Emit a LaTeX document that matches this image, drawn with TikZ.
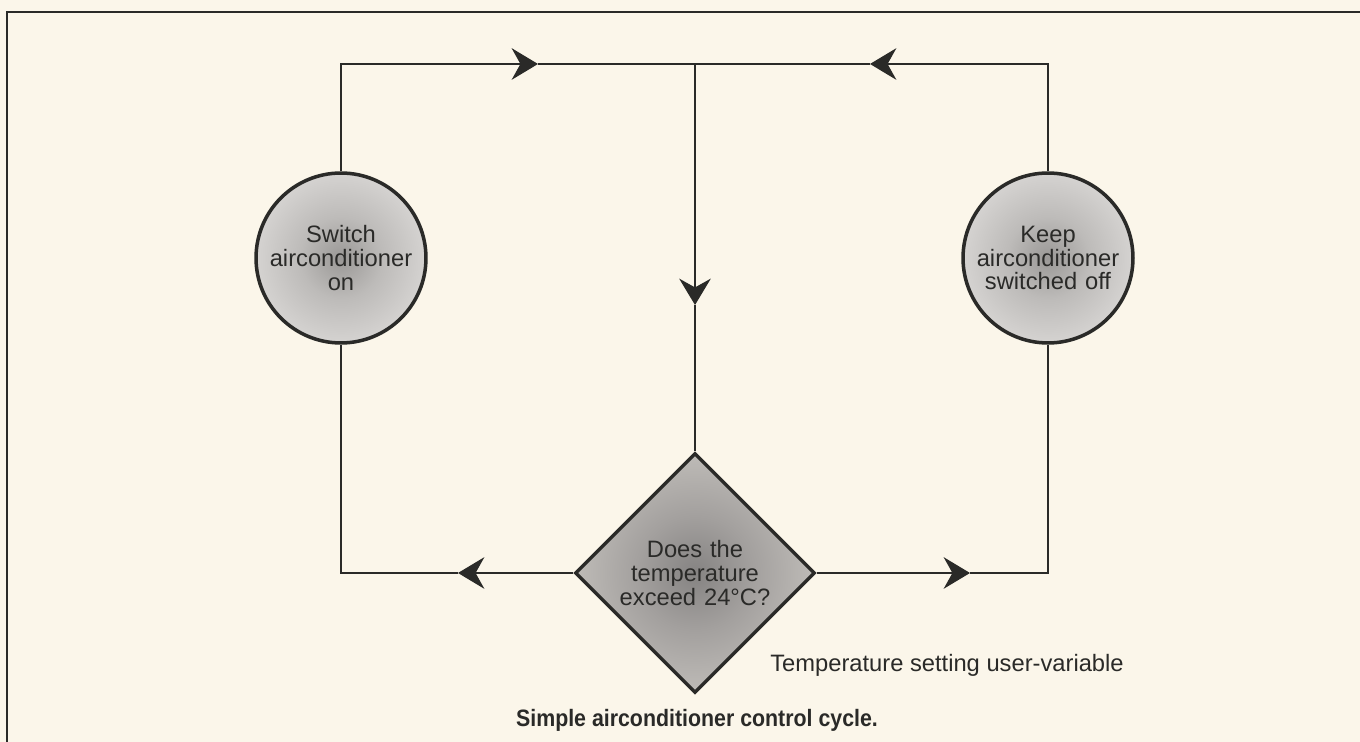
\documentclass[tikz,border=0pt]{standalone}
\usepackage{fontspec}
\setmainfont{Liberation Sans}
\newfontfamily\capfont[FakeStretch=0.9]{Liberation Sans}
\usetikzlibrary{arrows.meta,shapes.geometric}

\definecolor{paper}{HTML}{FBF6EA}
\definecolor{ink}{HTML}{2A2A28}
\definecolor{globeDark}{HTML}{9A9896}
\definecolor{globeMid}{HTML}{BDBBB9}
\definecolor{globeLight}{HTML}{DEDCDA}
\definecolor{globeEdge}{HTML}{ECEAE7}
\definecolor{kiteDark}{HTML}{858382}
\definecolor{kiteMid}{HTML}{A3A09E}
\definecolor{kiteLight}{HTML}{C0BDB9}
\definecolor{kiteEdge}{HTML}{CFCCC7}

\pgfdeclareradialshading{globe}{\pgfpoint{0bp}{0bp}}{color(0bp)=(globeDark); color(12bp)=(globeMid); color(30bp)=(globeLight); color(50bp)=(globeEdge)}
\pgfdeclareradialshading{kite}{\pgfpoint{0bp}{0bp}}{color(0bp)=(kiteDark); color(12bp)=(kiteMid); color(26bp)=(kiteLight); color(50bp)=(kiteEdge)}

\begin{document}
\begin{tikzpicture}[x=0.02cm,y=-0.02cm]
    \tikzset{state/.style= {draw=ink, circle
    , line width=2pt
    , minimum size=3.4cm
    , inner sep=0pt
    , text width=3cm
    , align=center
    , shade, shading=globe
    , text=ink
    , font=\fontsize{13.5}{13.5}\selectfont
      },
    test/.style= {draw=ink, diamond
    , line width=2pt
    , minimum width=4.8cm
    , minimum height=4.8cm
    , inner sep=0pt
    , text width=3.1cm
    , align=center
    , shade, shading=kite
    , text=ink
    , font=\fontsize{13.5}{13.5}\selectfont
      },
    flow/.style={draw=ink, line width=1.1pt},
    tip/.style={-{Stealth[length=15pt,width=18pt,inset=5pt]}}
    }

\path[use as bounding box, fill=paper] (0,0) rectangle (1360,742);
\draw[ink, line width=1.1pt] (1360,12) -- (7,12) -- (7,742);

\node [state] (swon) at (341,258) {Switch\\airconditioner\\on};
\node [state] (keepoff) at (1048,258) {Keep\\airconditioner\\switched off};
\node [test] (check) at (695,573) {Does the\\temperature\\exceed 24\textdegree C?};

\coordinate (join) at (695,64);
\coordinate (tipa) at (538,64);
\coordinate (tipb) at (870,64);
\coordinate (tipc) at (695,305);
\coordinate (tipd) at (458,573);
\coordinate (tipe) at (970,573);

\path[flow, tip] (swon.north) |- (tipa);
\path[flow] (tipa) -- (join);
\path[flow, tip] (keepoff.north) |- (tipb);
\path[flow] (tipb) -- (join);
\path[flow, tip] (join) -- (tipc);
\path[flow] (tipc) -- (check.north);
\path[flow, tip] (check.west) -- (tipd);
\path[flow] (tipd) -| (swon.south);
\path[flow, tip] (check.east) -- (tipe);
\path[flow] (tipe) -| (keepoff.south);

\node [anchor=base west, inner sep=0pt, text=ink, font=\fontsize{13.5}{13.5}\selectfont] (note) at (770,672) {Temperature setting user-variable};
\node [anchor=base, inner sep=0pt, text=ink, font=\capfont\bfseries\fontsize{13.5}{13.5}\selectfont] (title) at (697,727) {Simple airconditioner control cycle.};
\end{tikzpicture}
\end{document}
